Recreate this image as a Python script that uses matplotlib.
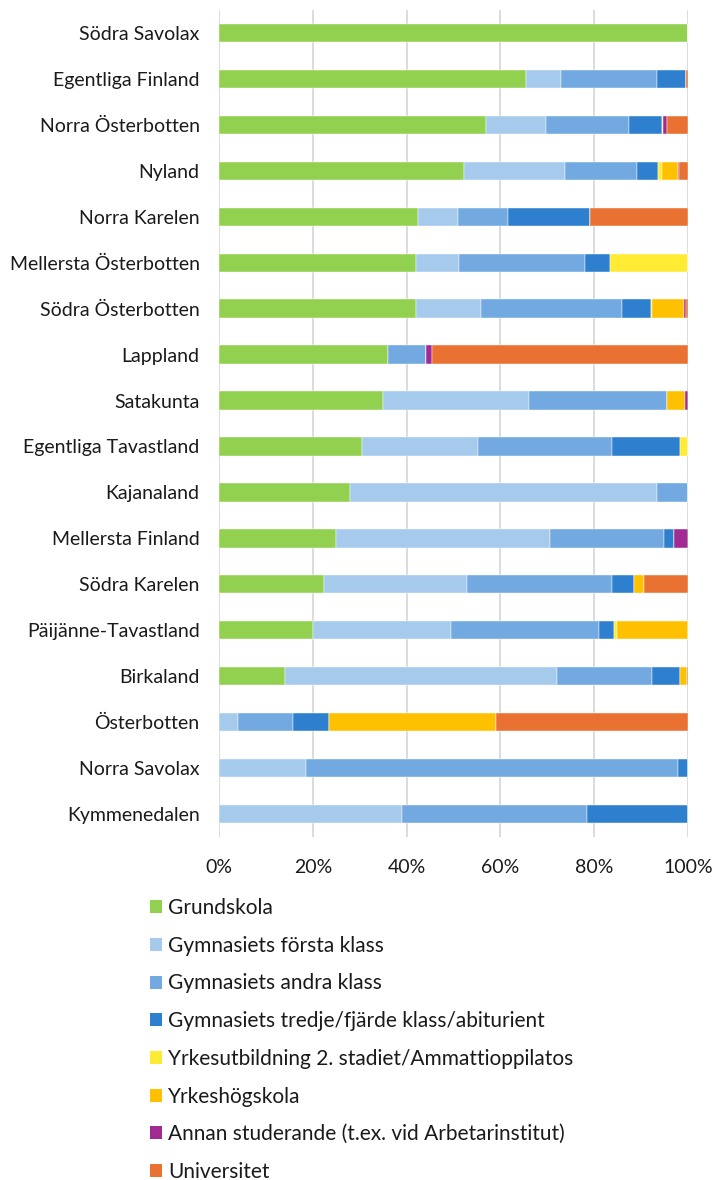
import numpy as np
import matplotlib.pyplot as plt
from matplotlib.patches import Patch

plt.rcParams['font.family'] = ['Lato', 'DejaVu Sans']

landskap = [
    "Södra Savolax", "Egentliga Finland", "Norra Österbotten", "Nyland",
    "Norra Karelen", "Mellersta Österbotten", "Södra Österbotten", "Lappland",
    "Satakunta", "Egentliga Tavastland", "Kajanaland", "Mellersta Finland",
    "Södra Karelen", "Päijänne-Tavastland", "Birkaland", "Österbotten",
    "Norra Savolax", "Kymmenedalen",
]

# andelar i procent per landskap
grundskola = [100, 65.4, 56.9, 52.2, 42.4, 42.0, 42.0, 36.0, 35.0, 30.5, 28.0, 25.0, 22.4, 20.1, 14.1, 0, 0, 0]
gym_forsta = [0, 7.5, 12.8, 21.6, 8.5, 9.1, 13.8, 0, 31.1, 24.7, 65.4, 45.6, 30.4, 29.3, 57.9, 4.0, 18.6, 39.0]
gym_andra = [0, 20.4, 17.8, 15.3, 10.7, 26.9, 30.1, 8.2, 29.5, 28.6, 6.6, 24.2, 31.0, 31.6, 20.4, 11.7, 79.3, 39.4]
gym_tredje = [0, 6.3, 7.0, 4.4, 17.6, 5.4, 6.2, 0, 0, 14.6, 0, 2.2, 4.6, 3.3, 5.8, 7.8, 2.1, 21.6]
yrkesutb = [0, 0, 0.2, 0.9, 0, 16.6, 0.3, 0, 0, 1.6, 0, 0, 0, 0.5, 0, 0, 0, 0]
yrkeshogskola = [0, 0, 0, 3.5, 0, 0, 6.7, 0, 3.8, 0, 0, 0, 2.2, 15.2, 1.5, 35.5, 0, 0]
annan = [0, 0, 0.8, 0.2, 0, 0, 0.4, 1.2, 0.6, 0, 0, 3.0, 0, 0, 0, 0, 0, 0]
universitet = [0, 0.4, 4.5, 1.9, 20.8, 0, 0.5, 54.6, 0, 0, 0, 0, 9.4, 0, 0.3, 41.0, 0, 0]

serier = [
    ("Grundskola", grundskola, "#92D050"),
    ("Gymnasiets första klass", gym_forsta, "#A6CAEC"),
    ("Gymnasiets andra klass", gym_andra, "#71A9E0"),
    ("Gymnasiets tredje/fjärde klass/abiturient", gym_tredje, "#2E80CF"),
    ("Yrkesutbildning 2. stadiet/Ammattioppilatos", yrkesutb, "#FFEB33"),
    ("Yrkeshögskola", yrkeshogskola, "#FFC000"),
    ("Annan studerande (t.ex. vid Arbetarinstitut)", annan, "#A02B93"),
    ("Universitet", universitet, "#E97132"),
]

fig = plt.figure(figsize=(7.16, 11.8), dpi=100)
ax = fig.add_axes([219 / 716, 1 - 837 / 1180, 469 / 716, 827 / 1180])

y = np.arange(len(landskap))
vanster = np.zeros(len(landskap))
for namn, varden, farg in serier:
    v = np.array(varden, dtype=float)
    ax.barh(y, v, left=vanster, height=0.4, color=farg,
            edgecolor="white", linewidth=0.3, zorder=3)
    vanster += v

ax.set_ylim(len(landskap) - 0.5, -0.5)
ax.set_xlim(0, 100)
ax.set_yticks(y)
ax.set_yticklabels(landskap, fontsize=14, color="#1a1a1a")
ax.set_xticks(np.arange(0, 101, 20))
ax.set_xticklabels([f"{t}%" for t in range(0, 101, 20)], fontsize=14, color="#1a1a1a")
ax.tick_params(axis="y", length=0, pad=14)
ax.tick_params(axis="x", length=0, pad=16)
ax.grid(axis="x", color="#d9d9d9", linewidth=1.3, zorder=0)
for s in ax.spines.values():
    s.set_visible(False)

handtag = [Patch(facecolor=f, edgecolor="none") for _, _, f in serier]
fig.legend(handtag, [n for n, _, _ in serier], loc="upper left",
           bbox_to_anchor=(150 / 716, 1 - 898 / 1180), frameon=False,
           fontsize=15, handlelength=0.58, handleheight=0.58,
           handletextpad=0.3, labelspacing=0.85, borderpad=0,
           borderaxespad=0, labelcolor="#1a1a1a")

fig.savefig("out.png", dpi=100)
